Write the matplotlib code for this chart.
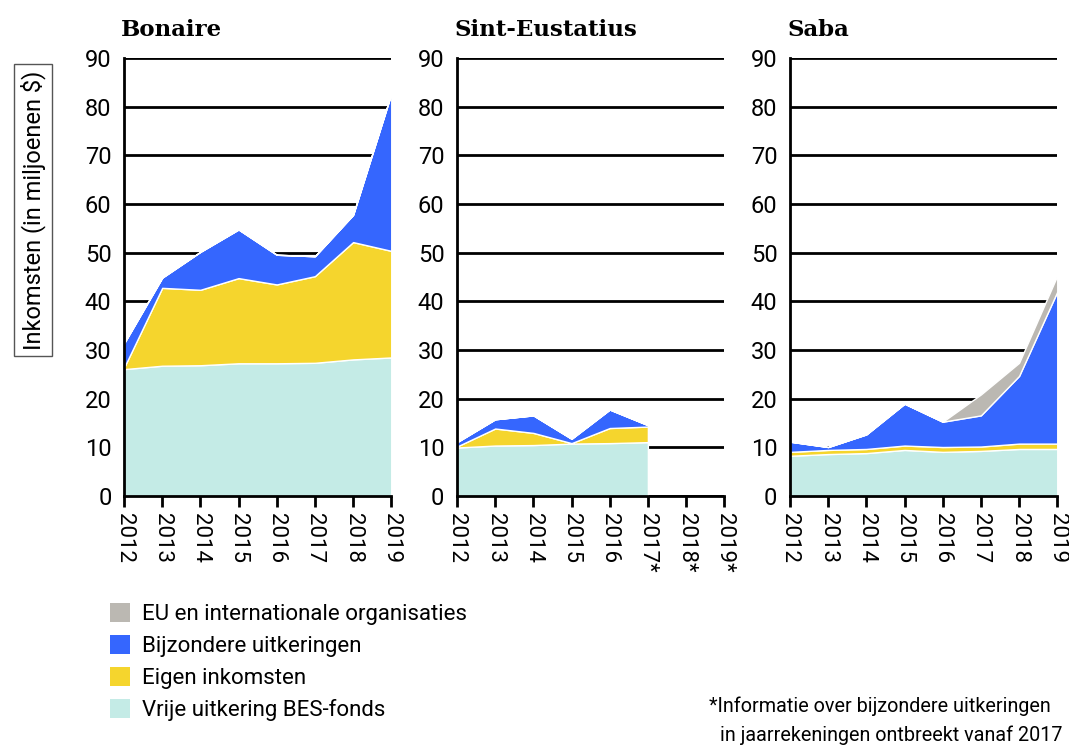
import matplotlib.pyplot as plt
from matplotlib.patches import Patch
import numpy as np

plt.rcParams['font.family'] = ['Roboto', 'DejaVu Sans']

years = ['2012', '2013', '2014', '2015', '2016', '2017', '2018', '2019']
years_sint = ['2012', '2013', '2014', '2015', '2016', '2017*', '2018*', '2019*']

# Bonaire (miljoenen $)
bon_vrije = [26.1, 26.8, 26.9, 27.3, 27.3, 27.4, 28.1, 28.5]
bon_eigen = [0.3, 16.0, 15.5, 17.5, 16.2, 17.8, 24.1, 21.9]
bon_bijz = [5.0, 2.1, 7.8, 10.0, 6.1, 4.1, 5.6, 32.3]
bon_eu = [0, 0, 0, 0, 0, 0, 0, 0]

# Sint-Eustatius (geen data vanaf 2018)
sint_vrije = [10.0, 10.4, 10.5, 10.8, 10.9, 11.1, np.nan, np.nan]
sint_eigen = [0.2, 3.5, 2.5, 0.1, 3.1, 3.2, np.nan, np.nan]
sint_bijz = [0.9, 1.9, 3.6, 0.9, 3.8, 0.3, np.nan, np.nan]
sint_eu = [0, 0, 0, 0, 0, 0, np.nan, np.nan]

# Saba
saba_vrije = [8.3, 8.65, 8.85, 9.5, 9.1, 9.3, 9.7, 9.7]
saba_eigen = [0.8, 0.85, 0.85, 0.9, 1.0, 0.9, 1.1, 1.1]
saba_bijz = [2.1, 0.6, 3.0, 8.6, 5.2, 6.4, 13.9, 31.2]
saba_eu = [0, 0, 0, 0, 0, 4.3, 2.7, 3.3]

labels = ['Vrije uitkering BES-fonds', 'Eigen inkomsten',
          'Bijzondere uitkeringen', 'EU en internationale organisaties']
colors = ['#c4ebe6', '#f5d52d', '#3566fe', '#bbb8b2']

panels = [
    ('Bonaire', years, [bon_vrije, bon_eigen, bon_bijz, bon_eu], 0.116),
    ('Sint-Eustatius', years_sint, [sint_vrije, sint_eigen, sint_bijz, sint_eu], 0.4275),
    ('Saba', years, [saba_vrije, saba_eigen, saba_bijz, saba_eu], 0.739),
]

fig = plt.figure(figsize=(10.69, 7.45), dpi=100)

for title, ticklabels, series, left in panels:
    ax = fig.add_axes([left, 0.334, 0.25, 0.588])
    x = np.arange(len(ticklabels))
    data = np.array(series, dtype=float)
    valid = ~np.isnan(data[0])
    ax.stackplot(x[valid], data[:, valid], colors=colors,
                 edgecolor='white', linewidth=1, zorder=3)
    ax.set_xlim(0, len(ticklabels) - 1)
    ax.set_ylim(0, 90)
    ax.set_yticks(range(0, 91, 10))
    ax.set_xticks(x)
    ax.set_xticklabels(ticklabels, rotation=270, fontsize=16)
    ax.tick_params(axis='y', length=0, labelsize=17, pad=9)
    ax.tick_params(axis='x', length=8, width=2, pad=4)
    ax.grid(axis='y', color='black', linewidth=2, zorder=0)
    ax.set_axisbelow(True)
    for s in ['top', 'right']:
        ax.spines[s].set_visible(False)
    for s in ['left', 'bottom']:
        ax.spines[s].set_linewidth(2)
        ax.spines[s].set_zorder(4)
    ax.text(-0.01, 1.04, title, transform=ax.transAxes, fontsize=16.5,
            fontweight='bold', family='DejaVu Serif', va='bottom', ha='left')

fig.text(0.031, 0.718, 'Inkomsten (in miljoenen $)', rotation=90, fontsize=17,
         ha='center', va='center',
         bbox=dict(boxstyle='square,pad=0.25', facecolor='white', edgecolor='#555555', linewidth=1))

handles = [Patch(facecolor=c, edgecolor='none') for c in colors][::-1]
fig.legend(handles, labels[::-1], loc='upper left', bbox_to_anchor=(0.103, 0.19),
           frameon=False, fontsize=16, handlelength=0.9, handleheight=0.9,
           labelspacing=0.45, handletextpad=0.55, borderaxespad=0, borderpad=0)

fig.text(709 / 1069, 1 - 706 / 745, '*Informatie over bijzondere uitkeringen',
         ha='left', va='center', fontsize=14.2)
fig.text(720 / 1069, 1 - 735 / 745, 'in jaarrekeningen ontbreekt vanaf 2017',
         ha='left', va='center', fontsize=14.2)

fig.savefig('out.png', dpi=100)
